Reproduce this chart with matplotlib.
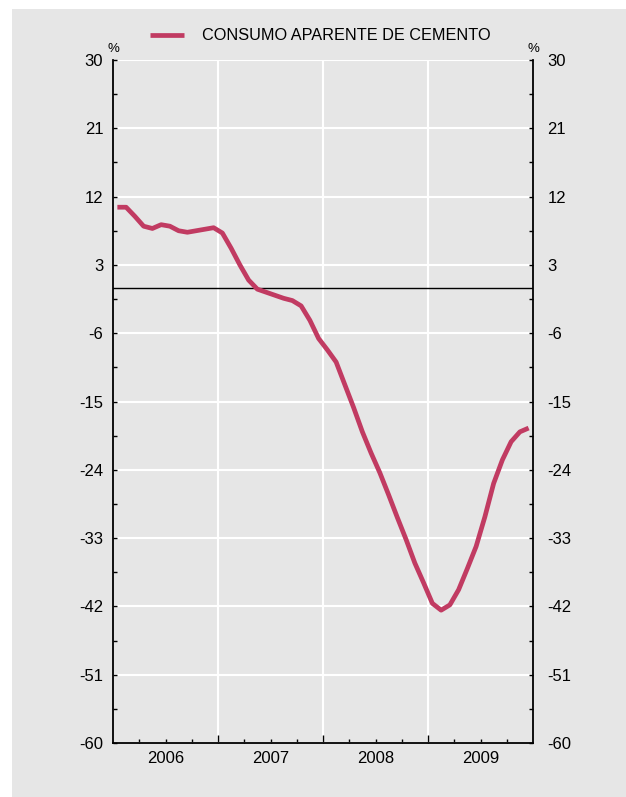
import matplotlib
matplotlib.use("Agg")
import matplotlib.pyplot as plt
from matplotlib.patches import Rectangle
import numpy as np

plt.rcParams['font.family'] = ['Liberation Sans', 'DejaVu Sans']
plt.rcParams['axes.unicode_minus'] = False

years = ["2006", "2007", "2008", "2009"]
series_name = "CONSUMO APARENTE DE CEMENTO"
# monthly values, Jan 2006 .. Dec 2009 (%)
values = [
    10.6, 10.6, 9.4, 8.1, 7.8, 8.3, 8.1, 7.5, 7.3, 7.5, 7.7, 7.9,
    7.2, 5.2, 3.0, 1.0, -0.2, -0.6, -1.0, -1.4, -1.7, -2.4, -4.3, -6.7,
    -8.2, -9.8, -12.8, -15.8, -19.0, -21.8, -24.4, -27.3, -30.3, -33.2, -36.3, -38.9,
    -41.6, -42.5, -41.8, -39.8, -37.0, -34.1, -30.2, -25.8, -22.7, -20.3, -19.0, -18.5,
]
yticks = [-60, -51, -42, -33, -24, -15, -6, 3, 12, 21, 30]

W, H = 626, 797
fig = plt.figure(figsize=(W/100, H/100), dpi=100)
fig.patch.set_facecolor('white')
grey = '#e6e6e6'
fig.patches.append(Rectangle((12/W, 0), 1 - 12/W, 1 - 9/H, transform=fig.transFigure,
                             facecolor=grey, edgecolor='none', zorder=-10))

x0, x1, yt, yb = 113, 533, 60, 743
ax = fig.add_axes([x0/W, 1 - yb/H, (x1 - x0)/W, (yb - yt)/H])
ax.set_zorder(2)
ax.set_facecolor(grey)

n = len(values)
xs = np.arange(n) + 0.5
line, = ax.plot(xs, values, color='#c13b62', lw=3.4, solid_joinstyle='round',
                solid_capstyle='butt', zorder=4, label=series_name)
ax.axhline(0, color='black', lw=1.0, zorder=3)

ax.set_xlim(0, n)
ax.set_ylim(-60, 30)

ax.set_yticks(yticks)
ax.set_yticks(np.arange(-55.5, 30, 9), minor=True)
ax.set_xticks([12, 24, 36])
ax.set_xticks(list(range(3, 48, 3)), minor=True)
ax.set_xticklabels([])

ax.grid(True, which='major', color='white', lw=1.5, zorder=1)
for s in ['left', 'right', 'bottom']:
    ax.spines[s].set_color('black')
    ax.spines[s].set_linewidth(1.3)
ax.spines['top'].set_visible(False)

ax.tick_params(axis='y', which='both', direction='in', length=3, width=1.0,
               left=True, right=True, labelsize=12, pad=7, colors='black')
ax.tick_params(axis='x', which='major', direction='in', length=6, width=1.0)
ax.tick_params(axis='x', which='minor', direction='in', length=3, width=1.0)

# year labels centered in each year
for i, yl in enumerate(years):
    ax.text(12 * i + 6, -61.0, yl, ha='center', va='top', fontsize=12)

ax2 = ax.twinx()
ax2.set_zorder(3)
ax2.patch.set_visible(False)
ax2.set_ylim(-60, 30)
ax2.set_yticks(yticks)
ax2.set_yticks(np.arange(-55.5, 30, 9), minor=True)
ax2.tick_params(axis='y', which='both', direction='in', length=3, width=1.0,
                labelsize=12, pad=10.5)
for s in ax2.spines.values():
    s.set_visible(False)

ax.text(0, 1.008, '%', transform=ax.transAxes, ha='center', va='bottom', fontsize=9.5)
ax.text(1, 1.008, '%', transform=ax.transAxes, ha='center', va='bottom', fontsize=9.5)

leg = fig.legend(handles=[line], loc='center', bbox_to_anchor=(320/W, 1 - 36/H),
                 frameon=False, fontsize=11.7, handlelength=2.1, handletextpad=1.1)

fig.savefig('out.png', dpi=100, facecolor='white')
